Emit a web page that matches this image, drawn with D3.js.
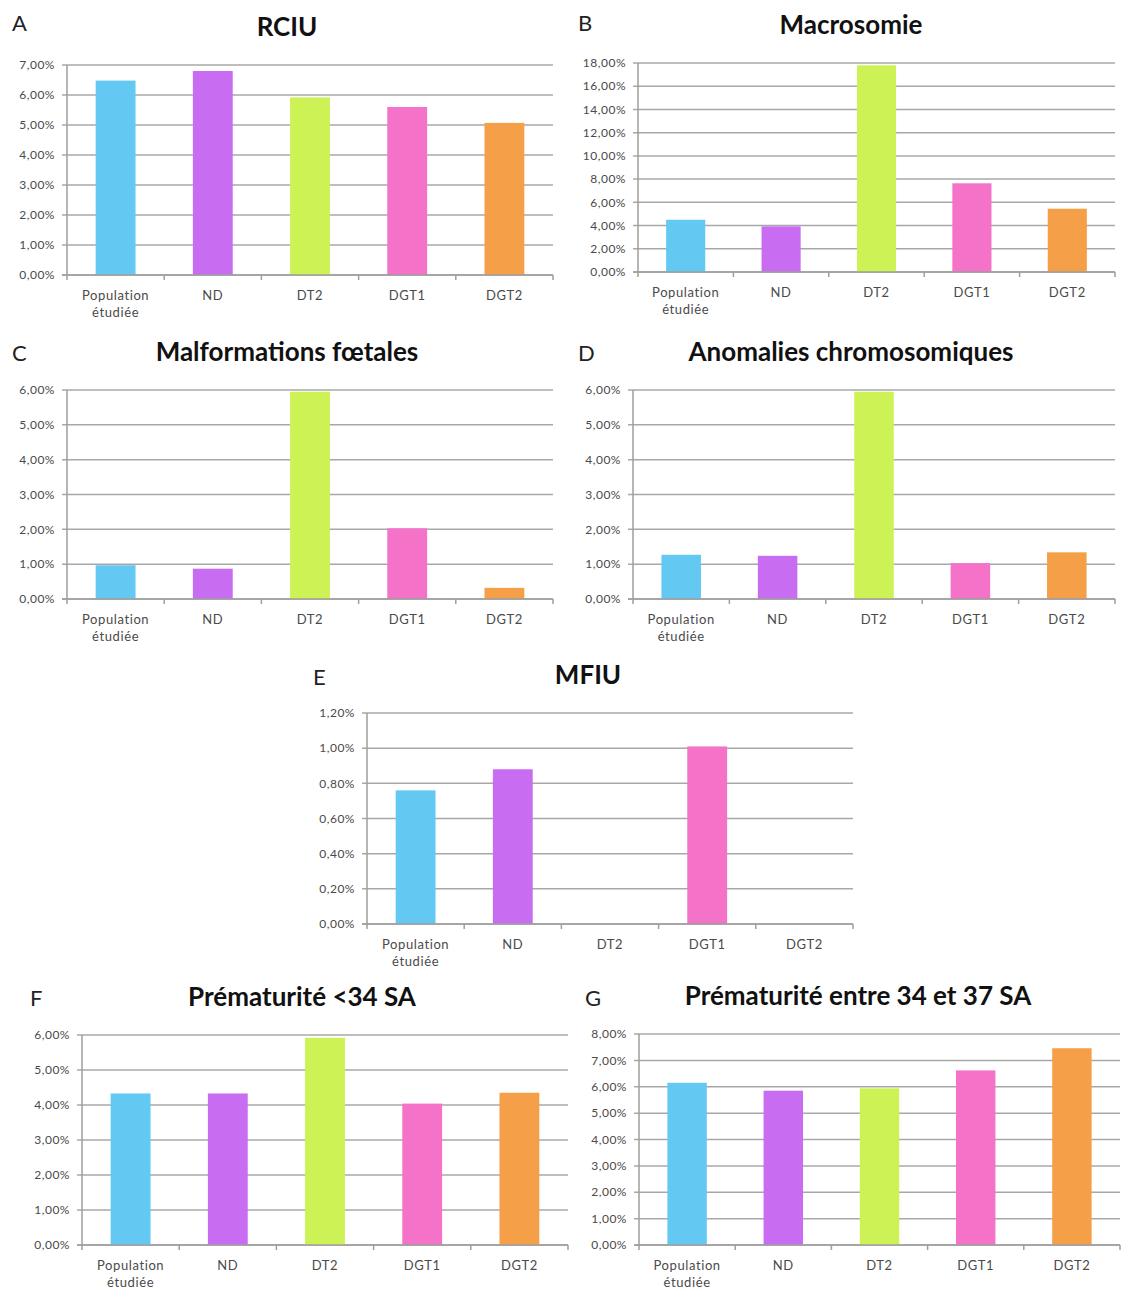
<!DOCTYPE html>
<html>
<head>
<meta charset="utf-8">
<script src="https://cdn.jsdelivr.net/npm/d3@7"></script>
<style>
  html, body { margin: 0; padding: 0; background: #ffffff; }
  svg { display: block; }
  .tick-y { font-family: Lato, "Open Sans", sans-serif; font-size: 12px; letter-spacing: 0.5px; fill: #4a4a4a; }
  .tick-x { font-family: Lato, "Open Sans", sans-serif; font-size: 13px; letter-spacing: 0.6px; fill: #4a4a4a; }
  .title { font-family: Lato, "Open Sans", sans-serif; font-size: 26px; font-weight: bold; fill: #111; }
  .letter { font-family: Lato, "Open Sans", sans-serif; font-size: 22px; fill: #222; }
</style>
</head>
<body>
<svg id="chart" width="1145" height="1293"></svg>
<script>
// Groups compared in every panel
const categories = ["Population étudiée", "ND", "DT2", "DGT1", "DGT2"];

// Rates (%) per group for each outcome
const rciu          = [6.48, 6.80, 5.92, 5.60, 5.07];
const macrosomie    = [4.50, 3.93, 17.80, 7.64, 5.45];
const malformations = [0.97, 0.87, 5.95, 2.03, 0.32];
const anomalies     = [1.27, 1.24, 5.95, 1.03, 1.34];
const mfiu          = [0.76, 0.88, 0.00, 1.01, 0.00];
const premat34      = [4.33, 4.33, 5.92, 4.04, 4.35];
const premat3437    = [6.15, 5.85, 5.94, 6.62, 7.46];

// Panel letters, titles and y-axis extents
const letters = ["A", "B", "C", "D", "E", "F", "G"];
const titles = ["RCIU", "Macrosomie", "Malformations fœtales", "Anomalies chromosomiques",
                "MFIU", "Prématurité <34 SA", "Prématurité entre 34 et 37 SA"];
const yMax  = [7, 18, 6, 6, 1.2, 6, 8];
const yStep = [1, 2, 1, 1, 0.2, 1, 1];
const series = [rciu, macrosomie, malformations, anomalies, mfiu, premat34, premat3437];

// Bar colour per group
const colors = ["#63c9f3", "#c86df2", "#cdf255", "#f472c8", "#f59f48"];

// Plot frames on the page: [left, top, right, bottom], plus letter position and title centre
const frames = [
  { box: [67, 65, 553, 275],    letter: [12, 31],   titleX: 287 },
  { box: [638, 63, 1115, 272],  letter: [578, 31],  titleX: 851 },
  { box: [67, 390, 553, 599],   letter: [12, 361],  titleX: 287 },
  { box: [633, 390, 1115, 599], letter: [578, 361], titleX: 851 },
  { box: [367, 713, 853, 924],  letter: [313, 685], titleX: 588 },
  { box: [82, 1035, 568, 1245], letter: [30, 1006], titleX: 302 },
  { box: [639, 1034, 1120, 1245], letter: [585, 1006], titleX: 858 }
];

const svg = d3.select("#chart");
const fmt = v => d3.format(".2f")(v).replace(".", ",") + "%";

series.forEach((vals, i) => {
  const [l, t, r, b] = frames[i].box;
  const g = svg.append("g");

  const x = d3.scaleBand().domain(categories).range([l, r]).padding(0);
  const y = d3.scaleLinear().domain([0, yMax[i]]).range([b, t]);
  const ticks = d3.range(0, yMax[i] + yStep[i] / 2, yStep[i]);

  // horizontal gridlines with short outside ticks
  g.selectAll("line.grid").data(ticks).join("line")
    .attr("x1", l - 5).attr("x2", r)
    .attr("y1", d => y(d)).attr("y2", d => y(d))
    .attr("stroke", "#a8a8a8").attr("stroke-width", 1.5);

  // y tick labels
  g.selectAll("text.ty").data(ticks).join("text")
    .attr("class", "tick-y")
    .attr("x", l - 12).attr("y", d => y(d))
    .attr("dy", "0.35em").attr("text-anchor", "end")
    .text(fmt);

  // bars
  const w = x.bandwidth() * 0.41;
  g.selectAll("rect").data(vals).join("rect")
    .attr("x", (d, k) => x(categories[k]) + (x.bandwidth() - w) / 2)
    .attr("y", d => y(d))
    .attr("width", w)
    .attr("height", d => y(0) - y(d))
    .attr("fill", (d, k) => colors[k]);

  // axes
  g.append("line").attr("x1", l).attr("x2", l).attr("y1", t).attr("y2", b)
    .attr("stroke", "#9e9e9e").attr("stroke-width", 1.5);
  g.append("line").attr("x1", l - 5).attr("x2", r).attr("y1", b).attr("y2", b)
    .attr("stroke", "#9e9e9e").attr("stroke-width", 1.5);
  const bounds = categories.map(c => x(c)).concat([r]);
  g.selectAll("line.tx").data(bounds).join("line")
    .attr("x1", d => d).attr("x2", d => d)
    .attr("y1", b).attr("y2", b + 5)
    .attr("stroke", "#9e9e9e").attr("stroke-width", 1.5);

  // category labels
  categories.forEach(c => {
    const words = c === "Population étudiée" ? ["Population", "étudiée"] : [c];
    const tx = g.append("text").attr("class", "tick-x")
      .attr("text-anchor", "middle")
      .attr("x", x(c) + x.bandwidth() / 2)
      .attr("y", b + 25);
    words.forEach((wd, j) => {
      tx.append("tspan").attr("x", x(c) + x.bandwidth() / 2)
        .attr("dy", j === 0 ? 0 : 17).text(wd);
    });
  });

  // title and panel letter
  g.append("text").attr("class", "title")
    .attr("x", frames[i].titleX).attr("y", t - 29)
    .attr("text-anchor", "middle").text(titles[i]);
  g.append("text").attr("class", "letter")
    .attr("x", frames[i].letter[0]).attr("y", frames[i].letter[1])
    .text(letters[i]);
});
</script>
</body>
</html>
